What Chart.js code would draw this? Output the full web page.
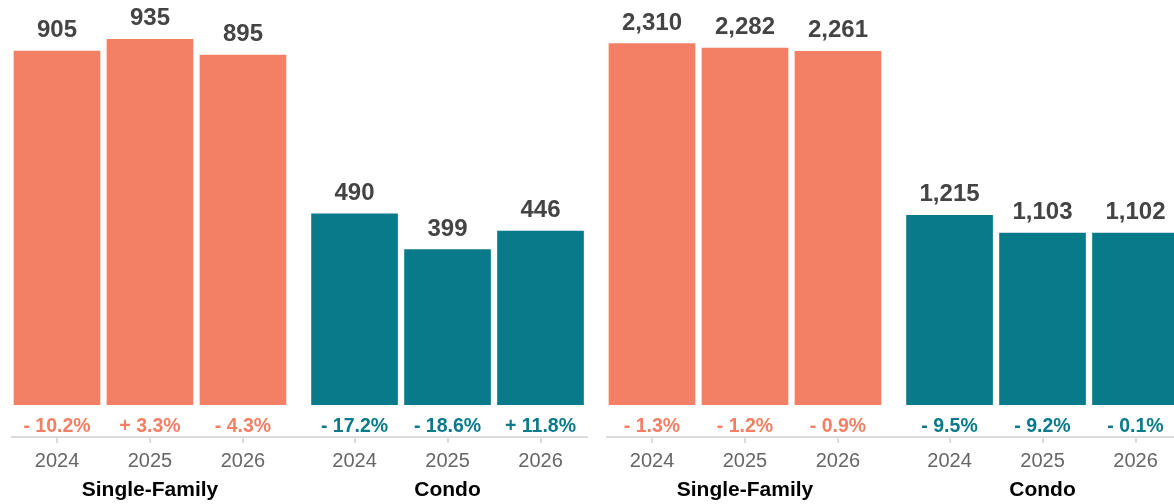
<!DOCTYPE html>
<html>
<head>
<meta charset="utf-8">
<script src="https://cdn.jsdelivr.net/npm/chart.js@4/dist/chart.umd.min.js"></script>
<style>
    html, body { margin: 0; padding: 0; background: #fff; overflow: hidden; }
    body { width: 1174px; height: 504px; position: relative; }
    canvas { position: absolute; top: 0; }
</style>
</head>
<body>
<canvas id="leftChart" width="600" height="504" style="left:0px"></canvas>
<canvas id="rightChart" width="600" height="504" style="left:595px"></canvas>
<script>
const years = ['2024', '2025', '2026'];
const groups = ['Single-Family', 'Condo'];

// left panel
const leftSingle = [905, 935, 895];
const leftCondo = [490, 399, 446];
const leftSingleChange = [-10.2, 3.3, -4.3];
const leftCondoChange = [-17.2, -18.6, 11.8];

// right panel
const rightSingle = [2310, 2282, 2261];
const rightCondo = [1215, 1103, 1102];
const rightSingleChange = [-1.3, -1.2, -0.9];
const rightCondoChange = [-9.5, -9.2, -0.1];

const SALMON = '#f37f64';
const TEAL = '#087a8a';
const FONT = '"Liberation Sans", Arial, Helvetica, sans-serif';

// bar slots on the linear x axis: second group is pushed a bit to the right
function slot(g, i) {
    return g * 3.2 + i;
}

function fmtChange(v) {
    const sign = v < 0 ? '- ' : '+ ';
    return sign + Math.abs(v).toFixed(1) + '%';
}

const labelPlugin = {
    id: 'labels',
    afterDatasetsDraw(chart) {
        const ctx = chart.ctx;
        const meta = chart.getDatasetMeta(0);
        const ds = chart.data.datasets[0];
        const zero = chart.scales.y.getPixelForValue(0);
        ctx.save();
        ctx.textAlign = 'center';
        ctx.textBaseline = 'alphabetic';
        meta.data.forEach((bar, i) => {
            const v = ds.data[i].y;
            ctx.font = 'bold 24px ' + FONT;
            ctx.fillStyle = '#444444';
            ctx.fillText(v.toLocaleString('en-US'), bar.x, bar.y - 13);

            ctx.font = 'bold 19.5px ' + FONT;
            ctx.fillStyle = ds.backgroundColor[i];
            ctx.fillText(fmtChange(chart.options.changes[i]), bar.x, zero + 27);
        });
        // group names under the years
        const xs = chart.scales.x;
        ctx.font = 'bold 21px ' + FONT;
        ctx.fillStyle = '#000000';
        groups.forEach((name, g) => {
            ctx.fillText(name, xs.getPixelForValue(slot(g, 1)), 496);
        });
        ctx.restore();
    }
};

function makePanel(id, single, condo, singleChg, condoChg, yMin, yMax) {
    const ctx = document.getElementById(id).getContext('2d');
    const points = [];
    const colors = [];
    single.forEach((v, i) => { points.push({ x: slot(0, i), y: v }); colors.push(SALMON); });
    condo.forEach((v, i) => { points.push({ x: slot(1, i), y: v }); colors.push(TEAL); });
    const tickValues = points.map(p => p.x);

    return new Chart(ctx, {
        type: 'bar',
        data: {
            datasets: [{
                data: points,
                backgroundColor: colors,
                borderColor: 'rgba(255,255,255,0.55)',
                borderWidth: 1,
                barThickness: 88
            }]
        },
        options: {
            responsive: false,
            animation: false,
            devicePixelRatio: 1,
            changes: singleChg.concat(condoChg),
            layout: { padding: { left: 12, right: 13, top: 0, bottom: 0 } },
            plugins: { legend: { display: false }, tooltip: { enabled: false } },
            scales: {
                x: {
                    type: 'linear',
                    min: -0.484,
                    max: 5.7,
                    offset: false,
                    afterFit: s => { s.height = 67; },
                    afterBuildTicks: s => { s.ticks = tickValues.map(v => ({ value: v })); },
                    grid: {
                        offset: false,
                        drawOnChartArea: false,
                        drawTicks: true,
                        tickLength: 6,
                        color: '#dcdcdc',
                        lineWidth: 2
                    },
                    border: { display: true, color: '#dcdcdc', width: 2 },
                    ticks: {
                        autoSkip: false,
                        maxRotation: 0,
                        padding: 6,
                        color: '#666666',
                        font: { family: FONT, size: 20 },
                        callback: (v, i) => years[i % 3]
                    }
                },
                y: {
                    display: false,
                    min: yMin,
                    max: yMax
                }
            }
        },
        plugins: [labelPlugin]
    });
}

document.addEventListener('DOMContentLoaded', function () {
    makePanel('leftChart', leftSingle, leftCondo, leftSingleChange, leftCondoChange, -81.6, 1033);
    makePanel('rightChart', rightSingle, rightCondo, rightSingleChange, rightCondoChange, -204, 2582);
});
</script>
</body>
</html>
